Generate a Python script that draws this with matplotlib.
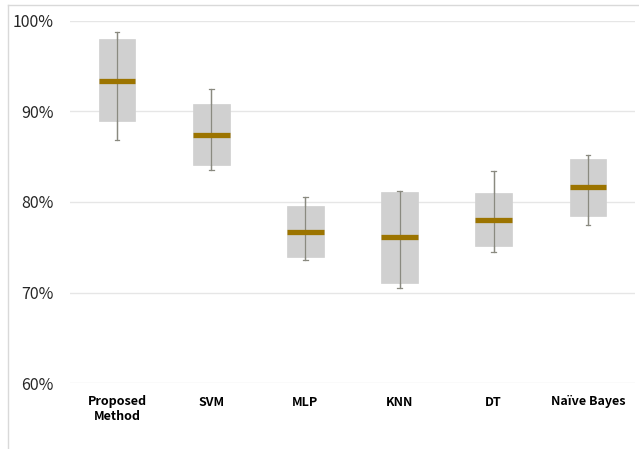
import matplotlib
matplotlib.use('Agg')
import matplotlib.pyplot as plt
from matplotlib.lines import Line2D
from matplotlib.ticker import PercentFormatter

plt.rcParams['font.family'] = ['Noto Sans CJK KR', 'DejaVu Sans']

# data (accuracy in %)
methods = ['Proposed\nMethod', 'SVM', 'MLP', 'KNN', 'DT', 'Naïve Bayes']
whisker_low = [86.9, 83.5, 73.6, 70.5, 74.5, 77.5]
q1 = [88.9, 84.1, 73.9, 71.0, 75.1, 78.5]
median = [93.4, 87.45, 76.7, 76.1, 78.0, 81.65]
q3 = [98.0, 90.8, 79.55, 81.05, 81.0, 84.8]
whisker_high = [98.8, 92.45, 80.5, 81.25, 83.4, 85.15]

stats = []
for i, name in enumerate(methods):
    stats.append({'label': name, 'whislo': whisker_low[i], 'q1': q1[i], 'med': median[i],
                  'q3': q3[i], 'whishi': whisker_high[i], 'fliers': []})

fig = plt.figure(figsize=(6.39, 4.49), dpi=100)
ax = fig.add_axes([70 / 639, (449 - 383) / 449, 565 / 639, 362 / 449])

pos = list(range(len(methods)))
ax.bxp(stats, positions=pos, widths=0.39, patch_artist=True,
       showfliers=False, capwidths=0.05,
       boxprops=dict(facecolor='#d0d0d0', edgecolor='#d0d0d0', linewidth=0.5, zorder=2),
       medianprops=dict(color='#9c7400', linewidth=3.8, solid_capstyle='butt', zorder=4),
       whiskerprops=dict(color='#8a8a80', linewidth=0.9),
       capprops=dict(color='#8a8a80', linewidth=0.9))
# the whisker line runs straight through the box
ax.vlines(pos, whisker_low, whisker_high, color='#8a8a80', linewidth=0.9, zorder=3)

ax.set_xlim(-0.5, len(methods) - 0.5)
ax.set_ylim(60, 100)
ax.set_yticks([60, 70, 80, 90, 100])
ax.yaxis.set_major_formatter(PercentFormatter(decimals=0))
ax.grid(axis='y', color='#e6e6e6', linewidth=1)
ax.set_axisbelow(True)
for s in ax.spines.values():
    s.set_visible(False)
ax.tick_params(length=0)
ax.tick_params(axis='y', labelsize=11.5, colors='#262626', pad=12)
ax.tick_params(axis='x', pad=9)
ax.set_xticks(pos)
ax.set_xticklabels(methods, fontsize=9, fontweight='bold', linespacing=1.1)

# chart area border (top and left visible)
fig.add_artist(Line2D([8 / 639, 1], [1 - 5 / 449, 1 - 5 / 449], color='#d9d9d9', linewidth=1))
fig.add_artist(Line2D([8 / 639, 8 / 639], [0, 1 - 5 / 449], color='#d9d9d9', linewidth=1))

fig.savefig('out.png', dpi=100)
